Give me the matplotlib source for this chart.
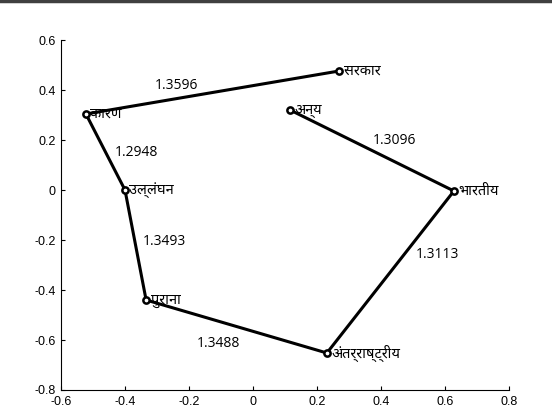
import os
import matplotlib
matplotlib.use("Agg")
import matplotlib.pyplot as plt
from matplotlib import font_manager
from matplotlib.ft2font import FT2Font
from matplotlib.lines import Line2D

# words and their 2-D coordinates (path order)
words = ["अन्य", "भारतीय", "अंतर्राष्ट्रीय", "पुराना", "उल्लंघन", "कारण", "सरकार"]
xs = [0.116, 0.628, 0.231, -0.334, -0.400, -0.522, 0.269]
ys = [0.320, -0.004, -0.652, -0.440, 0.000, 0.304, 0.476]

# distance between consecutive words
dists = ["1.3096", "1.3113", "1.3488", "1.3493", "1.2948", "1.3596"]
dist_x = [0.375, 0.508, -0.175, -0.345, -0.432, -0.306]
dist_y = [0.200, -0.256, -0.612, -0.204, 0.152, 0.420]


# pick a font with Devanagari glyphs (prefer a plain regular sans)
def deva_score(path):
    name = os.path.basename(path)
    if "NotoSansDevanagari" in name and "UI" not in name and "Bold" not in name:
        return 0
    if name.startswith("NotoSansDevanagariUI"):
        return 1
    if name.startswith(("Hind-Regular", "Mukta-Regular", "Amiko-Regular")):
        return 2
    return 5


candidates = []
for path in font_manager.findSystemFonts():
    if "unifont" in path:
        continue
    try:
        if 0x0915 in FT2Font(path).get_charmap():
            candidates.append(path)
    except Exception:
        pass
label_family = ["DejaVu Sans"]
if candidates:
    best = min(candidates, key=deva_score)
    font_manager.fontManager.addfont(best)
    label_family = [font_manager.FontProperties(fname=best).get_name(), "DejaVu Sans"]

fig = plt.figure(figsize=(5.52, 4.12), dpi=100)
ax = fig.add_axes([0.1105, 0.0534, 0.8115, 0.8495])

ax.plot(xs, ys, color="black", linewidth=2.2, marker="o", markersize=4.5,
        markerfacecolor="white", markeredgecolor="black", markeredgewidth=1.8)

for w, x, y in zip(words, xs, ys):
    ax.text(x + 0.014, y, w, fontsize=10.5, family=label_family,
            ha="left", va="center")

for d, x, y in zip(dists, dist_x, dist_y):
    ax.text(x, y, d, fontsize=10, family=["Open Sans", "DejaVu Sans"],
            ha="left", va="center")

ax.set_xlim(-0.6, 0.8)
ax.set_ylim(-0.8, 0.6)
ax.set_xticks([-0.6, -0.4, -0.2, 0, 0.2, 0.4, 0.6, 0.8])
ax.set_xticklabels(["-0.6", "-0.4", "-0.2", "0", "0.2", "0.4", "0.6", "0.8"])
ax.set_yticks([-0.8, -0.6, -0.4, -0.2, 0, 0.2, 0.4, 0.6])
ax.set_yticklabels(["-0.8", "-0.6", "-0.4", "-0.2", "0", "0.2", "0.4", "0.6"])
ax.spines["top"].set_visible(False)
ax.spines["right"].set_visible(False)
ax.tick_params(direction="in", length=3, labelsize=9, pad=4)
for lab in ax.get_xticklabels() + ax.get_yticklabels():
    lab.set_family("Liberation Sans")

# dark border at the top of the image
fig.add_artist(Line2D([0, 1], [0.997, 0.997], transform=fig.transFigure,
                      color="#404040", linewidth=2.5))

fig.savefig("out.png", dpi=100)
